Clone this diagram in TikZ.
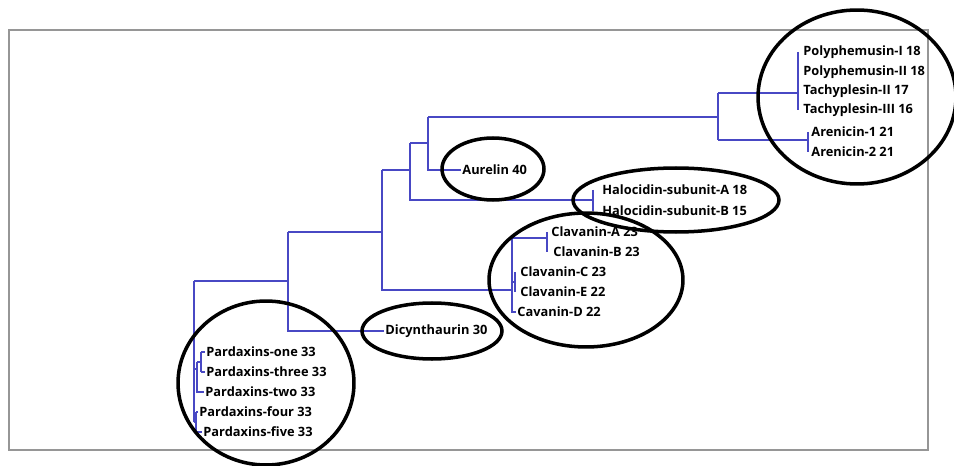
\documentclass[tikz,border=0pt]{standalone}
\usepackage{fontspec}
\setmainfont{Open Sans}
\usepackage{tikz}
\definecolor{treeblue}{RGB}{72,72,196}
\definecolor{framegray}{RGB}{150,150,150}

\begin{document}
\begin{tikzpicture}[x=0.02cm,y=-0.02cm,
  branch/.style={draw=treeblue,line width=0.75pt},
  leaf/.style={anchor=west,inner sep=0.6pt,font=\bfseries\fontsize{7.3}{8}\selectfont},
  ring/.style={draw=black,line width=2pt},
  frame/.style={draw=framegray,line width=1.1pt}]
  \useasboundingbox (0,0) rectangle (954,466);
  \draw[frame] (9,30) rectangle (928,450);

  % inner nodes
  \coordinate (root) at (194,350);
  \coordinate (a) at (288,281);
  \coordinate (b) at (382,232);
  \coordinate (c) at (410,170);
  \coordinate (d) at (428,143);
  \coordinate (e) at (718,117);
  \coordinate (poly) at (798,93);
  \coordinate (aren) at (808,140);
  \coordinate (halo) at (593,200);
  \coordinate (clav) at (512,290);
  \coordinate (clavab) at (547,238);
  \coordinate (clavce) at (515,282);
  \coordinate (pa) at (197,369);
  \coordinate (pb) at (201,362);
  \coordinate (pc) at (196,422);

  % leaves
  \node[leaf] (p1) at (802,52) {Polyphemusin-I 18};
  \node[leaf] (p2) at (802,72) {Polyphemusin-II 18};
  \node[leaf] (t2) at (802,91) {Tachyplesin-II 17};
  \node[leaf] (t3) at (802,110) {Tachyplesin-III 16};
  \node[leaf] (ar1) at (810,132) {Arenicin-1 21};
  \node[leaf] (ar2) at (810,152) {Arenicin-2 21};
  \node[leaf] (aur) at (461,170) {Aurelin 40};
  \node[leaf] (ha) at (601,190) {Halocidin-subunit-A 18};
  \node[leaf] (hb) at (601,211) {Halocidin-subunit-B 15};
  \node[leaf] (ca) at (550,232) {Clavanin-A 23};
  \node[leaf] (cb) at (552,252) {Clavanin-B 23};
  \node[leaf] (cc) at (519,272) {Clavanin-C 23};
  \node[leaf] (ce) at (519,292) {Clavanin-E 22};
  \node[leaf] (cd) at (516,312) {Cavanin-D 22};
  \node[leaf] (dic) at (384,331) {Dicynthaurin 30};
  \node[leaf] (px1) at (205,352) {Pardaxins-one 33};
  \node[leaf] (px3) at (205,372) {Pardaxins-three 33};
  \node[leaf] (px2) at (204,392) {Pardaxins-two 33};
  \node[leaf] (px4) at (198,412) {Pardaxins-four 33};
  \node[leaf] (px5) at (202,432) {Pardaxins-five 33};

  % branches
  \draw[branch] (root |- a) -- (root |- pc);
  \draw[branch] (root |- a) -- (a);
  \draw[branch] (root |- pa) -- (pa);
  \draw[branch] (root |- pc) -- (pc);
  \draw[branch] (pa |- pb) -- (pa |- px2) -- (px2.west);
  \draw[branch] (pa |- pb) -- (pb);
  \draw[branch] (pb |- px1) -- (pb |- px3);
  \draw[branch] (pb |- px1) -- (px1.west);
  \draw[branch] (pb |- px3) -- (px3.west);
  \draw[branch] (pc |- px4) -- (pc |- px5);
  \draw[branch] (pc |- px4) -- (px4.west);
  \draw[branch] (pc |- px5) -- (px5.west);
  \draw[branch] (a |- b) -- (a |- dic) -- (dic.west);
  \draw[branch] (a |- b) -- (b);
  \draw[branch] (b |- c) -- (b |- clav) -- (clav);
  \draw[branch] (b |- c) -- (c);
  \draw[branch] (c |- d) -- (c |- halo) -- (halo);
  \draw[branch] (c |- d) -- (d);
  \draw[branch] (d |- e) -- (d |- aur) -- (aur.west);
  \draw[branch] (d |- e) -- (e);
  \draw[branch] (e |- poly) -- (e |- aren);
  \draw[branch] (e |- poly) -- (poly);
  \draw[branch] (e |- aren) -- (aren);
  \draw[branch] (poly |- p1) -- (poly |- t3);
  \draw[branch] (aren |- ar1) -- (aren |- ar2);
  \draw[branch] (halo |- ha) -- (halo |- hb);
  \draw[branch] (clav |- clavab) -- (clav |- cd) -- (cd.west);
  \draw[branch] (clav |- clavab) -- (clavab);
  \draw[branch] (clav |- clavce) -- (clavce);
  \draw[branch] (clavab |- ca) -- (clavab |- cb);
  \draw[branch] (clavce |- cc) -- (clavce |- ce);

  % circled groups
  \draw[ring] (857,97) ellipse [x radius=1.98cm,y radius=1.74cm];
  \draw[ring] (493,169) ellipse [x radius=1.02cm,y radius=0.62cm];
  \draw[ring] (676,200) ellipse [x radius=2.06cm,y radius=0.64cm];
  \draw[ring] (586,280) ellipse [x radius=1.94cm,y radius=1.34cm];
  \draw[ring] (432,331) ellipse [x radius=1.40cm,y radius=0.56cm];
  \draw[ring] (266,383) ellipse [x radius=1.76cm,y radius=1.64cm];
\end{tikzpicture}
\end{document}
